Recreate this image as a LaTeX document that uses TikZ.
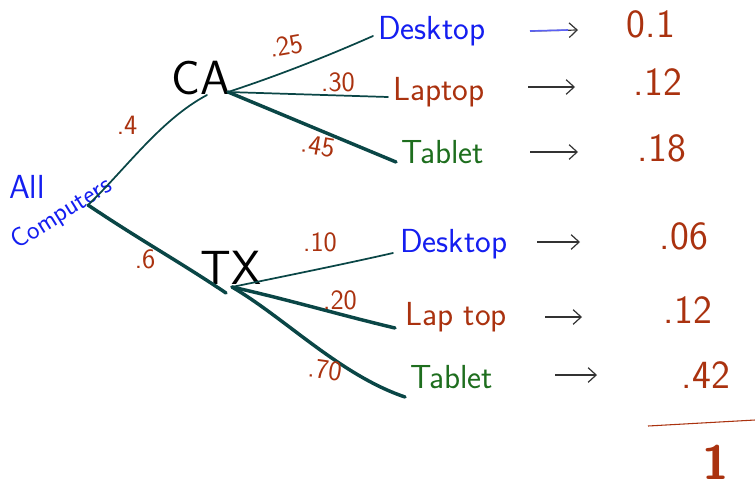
\documentclass[tikz,border=0pt]{standalone}
\usetikzlibrary{arrows.meta}
\definecolor{penblue}{RGB}{20,30,240}
\definecolor{penbrown}{RGB}{170,50,15}
\definecolor{pengreen}{RGB}{30,110,30}
\definecolor{penteal}{RGB}{10,70,70}
\begin{document}
\begin{tikzpicture}[x=0.75pt,y=-0.75pt,
  txt/.style={font=\sffamily\fontsize{25}{27}\selectfont,inner sep=0pt,anchor=west},
  big/.style={font=\sffamily\fontsize{36}{38}\selectfont,inner sep=0pt,text=black},
  num/.style={font=\sffamily\fontsize{30}{32}\selectfont,inner sep=0pt,text=penbrown},
  prob/.style={font=\sffamily\fontsize{21}{22}\selectfont,inner sep=0pt,text=penbrown},
  thinedge/.style={draw=penteal,line width=1.3pt,line cap=round},
  thickedge/.style={draw=penteal,line width=2.6pt,line cap=round},
  arr/.style={draw=black!80,line width=0.9pt,-{Straight Barb[length=6pt,width=11pt]}},
  every node/.style={inner sep=0pt}]
\useasboundingbox (0,0) rectangle (755,490);
% root
\node[font=\sffamily\fontsize{25}{27}\selectfont,text=penblue] (all) at (27,187) {All};
\node[text=penblue,rotate=32,font=\sffamily\fontsize{20}{22}\selectfont] (comp) at (62,214) {Computers};
\coordinate (root) at (88,205);
% level 1
\node[big] (ca) at (201,78) {CA};
\node[big] (tx) at (231,268) {TX};
\coordinate (caP) at (228,92);
\coordinate (caIn) at (207,95);
\coordinate (txP) at (232,287);
\coordinate (txIn) at (226,293);
\draw[thinedge] (root) .. controls (125,170) and (160,120) .. (caIn);
\draw[thickedge] (root) .. controls (140,240) and (180,262) .. (txIn);
\node[prob] (p4) at (127,125) {.4};
\node[prob] (p6) at (145,259) {.6};
% CA leaves
\node[txt,text=penblue] (cd) at (378,31) {Desktop};
\node[txt,text=penbrown] (cl) at (393,92) {Laptop};
\node[txt,text=pengreen] (ct) at (401,152) {Tablet};
\coordinate (cdIn) at (373,36);
\coordinate (clIn) at (388,97);
\coordinate (ctIn) at (396,162);
\draw[thinedge] (caP) .. controls (280,75) and (330,55) .. (cdIn);
\draw[thinedge] (caP) -- (clIn);
\draw[thickedge] (caP) -- (ctIn);
\node[prob,rotate=10] (p25) at (286,46) {.25};
\node[prob] (p30) at (338,82) {.30};
\node[prob,rotate=-10] (p45) at (318,146) {.45};
% TX leaves
\node[txt,text=penblue] (td) at (400,244) {Desktop};
\node[txt,text=penbrown] (tl) at (405,317) {Lap top};
\node[txt,text=pengreen] (tt) at (410,377) {Tablet};
\coordinate (tdIn) at (393,253);
\coordinate (tlIn) at (395,328);
\coordinate (ttIn) at (405,397);
\draw[thinedge] (txP) .. controls (290,275) and (340,265) .. (tdIn);
\draw[thickedge] (txP) .. controls (290,300) and (340,315) .. (tlIn);
\draw[thickedge] (txP) .. controls (285,318) and (340,375) .. (ttIn);
\node[prob] (p10) at (320,242) {.10};
\node[prob] (p20) at (340,300) {.20};
\node[prob,rotate=-8] (p70) at (325,370) {.70};
% arrows
\coordinate (a1s) at (530,31); \coordinate (a1e) at (578,30);
\coordinate (a2s) at (528,87); \coordinate (a2e) at (575,87);
\coordinate (a3s) at (530,152); \coordinate (a3e) at (578,152);
\coordinate (a4s) at (537,242); \coordinate (a4e) at (580,242);
\coordinate (a5s) at (545,317); \coordinate (a5e) at (582,317);
\coordinate (a6s) at (555,375); \coordinate (a6e) at (597,375);
\draw[arr] (a1s) -- (a1e);
\draw[penblue!70,line width=1.2pt] (a1s) -- (568,30);
\draw[arr] (a2s) -- (a2e);
\draw[arr] (a3s) -- (a3e);
\draw[arr] (a4s) -- (a4e);
\draw[arr] (a5s) -- (a5e);
\draw[arr] (a6s) -- (a6e);
% values
\node[num] (v1) at (651,24) {0.1};
\node[num] (v2) at (658,82) {.12};
\node[num] (v3) at (662,148) {.18};
\node[num] (v4) at (684,236) {.06};
\node[num] (v5) at (688,310) {.12};
\node[num] (v6) at (706,375) {.42};
\coordinate (s1) at (648,426); \coordinate (s2) at (755,420);
\draw[penbrown,line width=0.8pt] (s1) -- (s2);
\node[num,font=\sffamily\bfseries\fontsize{36}{38}\selectfont] (total) at (716,462) {1};
\end{tikzpicture}
\end{document}
